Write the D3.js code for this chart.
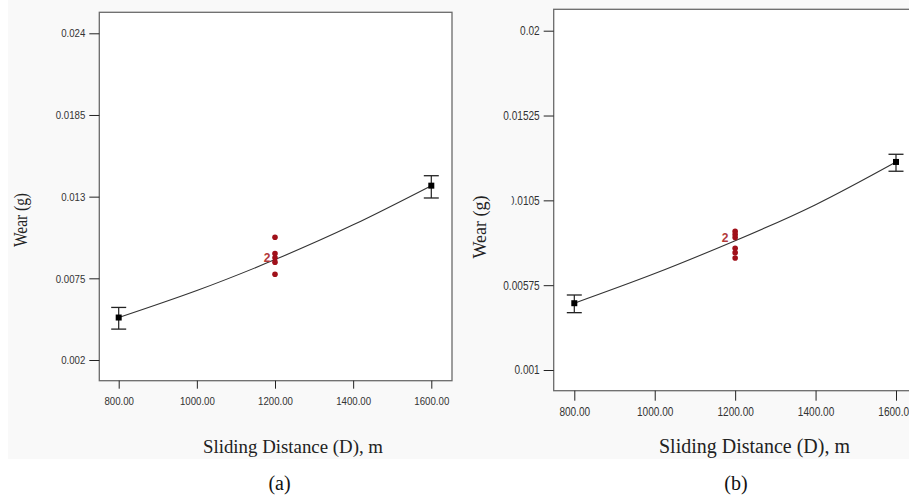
<!DOCTYPE html>
<html>
<head>
<meta charset="utf-8">
<script src="https://cdn.jsdelivr.net/npm/d3@7"></script>
<style>
  html, body { margin: 0; padding: 0; background: #ffffff; }
  svg { display: block; }
  .tick text { font-family: 'Liberation Sans', Arial, sans-serif; fill: #333; }
  .tick line { stroke: #222; }
</style>
</head>
<body>
<svg id="chart" width="909" height="498"></svg>
<script>
// Sliding distance levels and axis ticks (shared by both panels)
const distanceTicks = [800, 1000, 1200, 1400, 1600];
const factorLevels = [800, 1600];

// Panel (a)
const wearTicksA = [0.002, 0.0075, 0.013, 0.0185, 0.024];
const wearTickLabelsA = ["0.002", "0.0075", "0.013", "0.0185", "0.024"];
const meanA = [0.00486, 0.01374];
const lowA = [0.00408, 0.01291];
const highA = [0.00554, 0.01441];
const centerWearA = [0.01027, 0.00916, 0.00889, 0.00859, 0.00777];
const centerCountA = [1, 1, 2, 1, 1];
const fitDistanceA = [800, 1000, 1200, 1400, 1600];
const fitWearA = [0.00486, 0.00668, 0.00876, 0.0111, 0.01374];

// Panel (b)
const wearTicksB = [0.001, 0.00575, 0.0105, 0.01525, 0.02];
const wearTickLabelsB = ["0.001", "0.00575", "0.0105", "0.01525", "0.02"];
const meanB = [0.00474, 0.01265];
const lowB = [0.00421, 0.01213];
const highB = [0.0052, 0.01308];
const centerWearB = [0.00876, 0.00859, 0.00842, 0.00782, 0.00757, 0.00727];
const centerCountB = [1, 1, 2, 1, 1, 1];
const fitDistanceB = [800, 1000, 1200, 1400, 1600];
const fitWearB = [0.00474, 0.0064, 0.00824, 0.01026, 0.01265];

const xTitle = "Sliding Distance (D), m";
const yTitle = "Wear (g)";
const centerLevel = 1200;

const svg = d3.select("#chart");
const bg = "#f9f9f9";

// figure background
svg.append("rect").attr("x", 8).attr("y", 0).attr("width", 901).attr("height", 459).attr("fill", bg);

// narrow the tick labels, as in a condensed sans face
function condense(sel, k) {
  sel.each(function () {
    const w = this.getComputedTextLength();
    d3.select(this).attr("textLength", w * k).attr("lengthAdjust", "spacingAndGlyphs");
  });
}

function drawPanel(p) {
  const g = svg.append("g");
  const x = d3.scaleLinear().domain([800, 1600]).range(p.xRange);
  const y = d3.scaleLinear().domain(d3.extent(p.yTicks)).range(p.yRange);
  const tickLen = 10, tickPad = 4;

  // plot box
  g.append("rect")
    .attr("x", p.box.left).attr("y", p.box.top)
    .attr("width", p.box.right - p.box.left).attr("height", p.box.bottom - p.box.top)
    .attr("fill", "#ffffff").attr("stroke", "#6a6a6a").attr("stroke-width", 1.3);

  // left axis
  const ya = g.append("g").attr("transform", `translate(${p.box.left},0)`)
    .call(d3.axisLeft(y).tickValues(p.yTicks)
      .tickFormat((d, i) => p.yLabels[i]).tickSize(tickLen).tickPadding(tickPad));
  ya.select(".domain").remove();
  ya.selectAll(".tick text").style("font-size", p.tickFont + "px").call(condense, 0.84);

  // bottom axis
  const xa = g.append("g").attr("transform", `translate(0,${p.box.bottom})`)
    .call(d3.axisBottom(x).tickValues(distanceTicks)
      .tickFormat(d3.format(".2f")).tickSize(p.xTickSize).tickPadding(p.xPad));
  xa.select(".domain").remove();
  xa.selectAll(".tick text").style("font-size", p.tickFont + "px").call(condense, 0.84);

  // fitted response curve
  const fit = p.fitX.map((d, i) => [d, p.fitY[i]]);
  g.append("path").datum(fit)
    .attr("d", d3.line().x(d => x(d[0])).y(d => y(d[1])).curve(d3.curveNatural))
    .attr("fill", "none").attr("stroke", "#333").attr("stroke-width", 1.1);

  // error bars at factor levels
  const cap = 7.5;
  factorLevels.forEach((lv, i) => {
    const cx = x(lv);
    g.append("line").attr("x1", cx).attr("x2", cx).attr("y1", y(p.low[i])).attr("y2", y(p.high[i]))
      .attr("stroke", "#222").attr("stroke-width", 1.2);
    [p.low[i], p.high[i]].forEach(v => {
      g.append("line").attr("x1", cx - cap).attr("x2", cx + cap).attr("y1", y(v)).attr("y2", y(v))
        .attr("stroke", "#222").attr("stroke-width", 1.3);
    });
    g.append("rect").attr("x", cx - 3).attr("y", y(p.mean[i]) - 3)
      .attr("width", 6).attr("height", 6).attr("fill", "#000");
  });

  // center point runs
  const cx = x(centerLevel);
  p.center.forEach((v, i) => {
    g.append("circle").attr("cx", cx).attr("cy", y(v)).attr("r", 2.8).attr("fill", "#a0101a");
    if (p.counts[i] > 1) {
      g.append("text").attr("x", cx - p.countOffset).attr("y", y(v))
        .attr("dy", "0.36em").attr("text-anchor", "middle")
        .style("font-family", "'Liberation Sans', Arial, sans-serif")
        .style("font-size", "12px").style("font-weight", "bold")
        .attr("fill", "#b33a3a").text(p.counts[i]);
    }
  });

  // y title, pasted on its own background block that overlaps the nearest tick label
  if (p.coverTick !== undefined) {
    const lab = ya.selectAll(".tick text").filter((d, i) => i === p.coverTick);
    const tl = +lab.attr("textLength");
    const labelStart = p.box.left - tickLen - tickPad - tl;
    const edge = labelStart + p.coverFrac * tl / p.yLabels[p.coverTick].length;
    g.append("rect").attr("x", edge - 48).attr("y", p.yTitle.y - 45)
      .attr("width", 48).attr("height", 85).attr("fill", bg);
  }
  g.append("text")
    .attr("transform", `translate(${p.yTitle.x},${p.yTitle.y}) rotate(-90)`)
    .attr("text-anchor", "middle")
    .attr("textLength", p.yTitle.len).attr("lengthAdjust", "spacingAndGlyphs")
    .style("font-family", "'Liberation Serif', 'Times New Roman', serif")
    .style("font-size", p.yTitle.size + "px").attr("fill", "#222").text(yTitle);

  // x title
  g.append("text")
    .attr("x", p.xTitle.x).attr("y", p.xTitle.y).attr("text-anchor", "middle")
    .attr("textLength", p.xTitle.len).attr("lengthAdjust", "spacingAndGlyphs")
    .style("font-family", "'Liberation Serif', 'Times New Roman', serif")
    .style("font-size", p.xTitle.size + "px").attr("fill", "#222").text(xTitle);

  // panel caption
  svg.append("text").attr("x", p.caption.x).attr("y", 490).attr("text-anchor", "middle")
    .style("font-family", "'Liberation Serif', 'Times New Roman', serif")
    .style("font-size", "20px").attr("fill", "#111").text(p.caption.text);
}

drawPanel({
  box: { left: 99.3, right: 452, top: 12.3, bottom: 380.7 },
  xRange: [118.7, 431.3], yRange: [360, 33.3],
  yTicks: wearTicksA, yLabels: wearTickLabelsA,
  tickFont: 11.5, xTickSize: 8, xPad: 8,
  mean: meanA, low: lowA, high: highA,
  center: centerWearA, counts: centerCountA, countOffset: 8,
  fitX: fitDistanceA, fitY: fitWearA,
  yTitle: { x: 27, y: 220, len: 54, size: 18 },
  xTitle: { x: 293, y: 452.5, len: 180, size: 19 },
  caption: { x: 279.5, text: "(a)" }
});

drawPanel({
  box: { left: 553.7, right: 920, top: 9.3, bottom: 390.7 },
  xRange: [574.3, 896], yRange: [370, 30.7],
  yTicks: wearTicksB, yLabels: wearTickLabelsB,
  tickFont: 12, xTickSize: 10, xPad: 6.5,
  mean: meanB, low: lowB, high: highB,
  center: centerWearB, counts: centerCountB, countOffset: 10,
  fitX: fitDistanceB, fitY: fitWearB,
  coverTick: 2, coverFrac: 0.55,
  yTitle: { x: 486, y: 227, len: 63, size: 19 },
  xTitle: { x: 754.5, y: 452.5, len: 191, size: 20 },
  caption: { x: 736, text: "(b)" }
});
</script>
</body>
</html>
